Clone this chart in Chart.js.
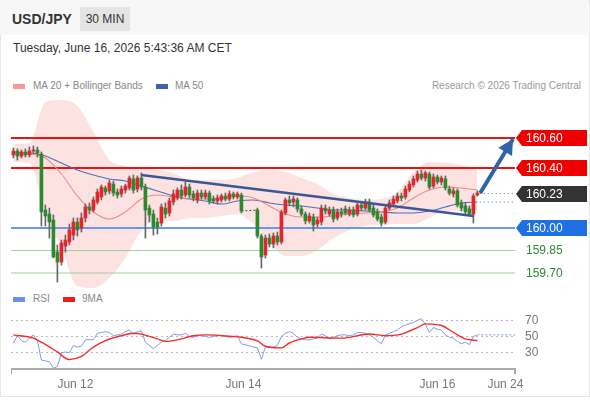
<!DOCTYPE html>
<html><head><meta charset="utf-8">
<script src="https://cdn.jsdelivr.net/npm/chart.js@4.4.1/dist/chart.umd.min.js"></script>
<style>
html,body{margin:0;padding:0;width:590px;height:400px;overflow:hidden;background:#fff;font-family:"Liberation Sans",Arial,sans-serif;}
#card{position:absolute;left:0;top:0;width:588px;height:395px;border:1px solid #e6e6e6;background:#fff;}
#hdr{position:absolute;left:0;top:0;width:588px;height:35px;background:#f7f7f7;}
#sym{position:absolute;left:12px;top:11px;font-size:14px;font-weight:bold;color:#333;}
#tf{position:absolute;left:80px;top:7px;width:50px;height:24px;background:#e4e4e4;color:#333;font-size:12px;line-height:24px;text-align:center;}
#date{position:absolute;left:13px;top:41px;font-size:12px;color:#333;}
.leg{position:absolute;font-size:10px;color:#888;white-space:nowrap;}
.sw{position:absolute;width:12px;height:5px;}
canvas{position:absolute;}
</style></head>
<body>
<div id="card"></div>
<div id="hdr"></div>
<div id="sym">USD/JPY</div>
<div id="tf">30 MIN</div>
<div id="date">Tuesday, June 16, 2026 5:43:36 AM CET</div>
<div class="sw" style="left:13px;top:84px;background:#f59a9a"></div>
<div class="leg" style="left:33px;top:80px">MA 20 + Bollinger Bands</div>
<div class="sw" style="left:156px;top:84px;background:#3f62a8"></div>
<div class="leg" style="left:175px;top:80px">MA 50</div>
<div class="leg" style="right:9px;top:80px;color:#999">Research © 2026 Trading Central</div>
<div class="sw" style="left:13px;top:297px;background:#6f93e4"></div>
<div class="leg" style="left:33px;top:293px">RSI</div>
<div class="sw" style="left:63px;top:297px;background:#f01c1c"></div>
<div class="leg" style="left:82px;top:293px">9MA</div>
<canvas id="main" width="579" height="195" style="left:11px;top:93px"></canvas>
<canvas id="rsiC" width="568" height="92" style="left:11px;top:304px"></canvas>
<script>
// ---------- data ----------
const openP = [
160.487,160.513,160.480,160.507,160.487,160.513,160.520,
160.493,160.120,160.093,160.053,159.840,159.773,159.880,159.907,159.953,160.040,
160.000,160.067,160.140,160.120,160.173,160.207,160.267,160.247,160.293,160.240,
160.227,160.253,160.267,160.327,160.260,160.333,160.273,160.133,160.093,160.040,
160.033,160.133,160.100,160.173,160.200,160.253,160.220,160.273,160.227,160.187,
160.233,160.207,160.233,160.193,160.180,160.187,160.213,160.193,160.227,160.207,
160.220,null,null,null,
160.120,159.947,159.820,159.933,159.893,159.947,159.907,160.100,160.187,160.173,
160.187,160.127,160.093,160.047,160.073,160.027,160.040,160.133,160.093,160.120,
160.067,160.107,160.127,160.093,160.120,160.093,160.153,160.133,160.173,160.133,
160.107,160.073,160.040,160.133,160.160,160.180,160.213,160.207,160.253,160.287,
160.320,160.360,160.333,160.360,160.280,160.340,160.307,160.327,160.260,160.227,
160.247,160.167,160.147,160.127,160.093,160.220];
const highP = [
160.533,160.527,160.520,160.527,160.540,160.547,160.540,
160.507,160.153,160.133,160.087,159.887,159.920,159.953,160.027,160.067,160.067,
160.100,160.160,160.167,160.207,160.260,160.287,160.280,160.320,160.313,160.260,
160.280,160.293,160.347,160.353,160.347,160.367,160.293,160.153,160.120,160.067,
160.160,160.167,160.200,160.253,160.267,160.287,160.307,160.293,160.247,160.253,
160.253,160.253,160.247,160.213,160.220,160.227,160.233,160.247,160.240,160.240,
160.233,null,null,null,
160.133,159.960,159.953,159.960,159.967,159.973,160.120,160.200,160.213,160.213,
160.200,160.147,160.107,160.100,160.093,160.073,160.153,160.153,160.140,160.140,
160.127,160.133,160.147,160.140,160.140,160.173,160.173,160.193,160.193,160.153,
160.127,160.093,160.153,160.187,160.213,160.233,160.233,160.280,160.313,160.347,
160.380,160.387,160.380,160.373,160.360,160.353,160.347,160.347,160.280,160.267,
160.260,160.187,160.167,160.147,160.227,160.247];
const lowP = [
160.467,160.453,160.467,160.473,160.473,160.500,160.473,
160.013,160.013,159.933,159.800,159.640,159.753,159.840,159.887,159.920,159.947,
159.973,160.040,160.093,160.107,160.160,160.187,160.220,160.227,160.213,160.200,
160.207,160.233,160.253,160.233,160.240,160.253,159.933,160.040,159.953,159.960,
160.013,160.067,160.080,160.153,160.187,160.193,160.207,160.200,160.180,160.167,
160.193,160.193,160.160,160.167,160.160,160.173,160.180,160.180,160.193,160.193,
160.100,null,null,null,
159.933,159.733,159.800,159.873,159.867,159.887,159.893,160.087,160.147,160.140,
160.107,160.080,160.027,160.033,159.980,160.007,160.020,160.093,160.080,160.040,
160.053,160.073,160.087,160.080,160.073,160.080,160.120,160.120,160.107,160.073,
160.047,160.013,160.027,160.120,160.147,160.167,160.180,160.193,160.240,160.273,
160.307,160.320,160.313,160.260,160.267,160.293,160.287,160.253,160.220,160.207,
160.140,160.113,160.087,160.080,160.033,160.213];
const closeP = [
160.513,160.480,160.507,160.487,160.513,160.520,160.500,
160.107,160.080,160.040,159.807,159.773,159.900,159.920,159.987,160.040,159.987,
160.067,160.140,160.120,160.187,160.240,160.273,160.240,160.300,160.233,160.220,
160.260,160.280,160.333,160.253,160.333,160.273,160.120,160.087,160.007,160.007,
160.140,160.093,160.180,160.227,160.253,160.213,160.273,160.220,160.200,160.233,
160.207,160.233,160.180,160.180,160.200,160.213,160.193,160.227,160.207,160.227,
160.113,null,null,null,
159.947,159.807,159.933,159.893,159.947,159.907,160.107,160.187,160.167,160.193,
160.127,160.093,160.047,160.080,160.020,160.053,160.133,160.113,160.120,160.060,
160.107,160.093,160.100,160.120,160.087,160.153,160.133,160.173,160.120,160.087,
160.060,160.033,160.133,160.167,160.193,160.213,160.200,160.260,160.293,160.327,
160.360,160.333,160.367,160.273,160.340,160.307,160.333,160.267,160.233,160.247,
160.153,160.133,160.107,160.093,160.213,160.233];

const maIdx = [0,4,8,12,16,20,24,28,32,36,40,44,48,52,56,60,64,68,72,76,80,84,88,92,96,100,104,108,112,116];
const ma20 = [160.500,160.493,160.467,160.360,160.213,160.107,160.060,160.107,160.193,160.220,160.207,160.193,160.193,160.200,160.213,160.200,160.147,160.093,160.073,160.073,160.080,160.093,160.100,160.107,160.133,160.200,160.253,160.273,160.267,160.253];
const ma50 = [160.500,160.500,160.480,160.433,160.387,160.353,160.327,160.313,160.280,160.247,160.213,160.193,160.180,160.160,160.180,160.187,160.167,160.153,160.147,160.133,160.120,160.120,160.113,160.107,160.100,160.100,160.113,160.140,160.167,160.173];
const bbUpper = [160.560,160.567,160.840,160.853,160.813,160.640,160.453,160.413,160.400,160.387,160.367,160.320,160.320,160.320,160.333,160.373,160.387,160.373,160.333,160.293,160.227,160.200,160.187,160.193,160.240,160.373,160.440,160.433,160.420,160.387];
const bbLower = [160.440,160.433,160.093,159.867,159.613,159.600,159.667,159.800,159.987,160.053,160.047,160.067,160.067,160.080,160.093,160.027,159.907,159.813,159.813,159.853,159.933,159.987,160.013,160.020,160.027,160.027,160.067,160.113,160.113,160.120];

const rsi = [
42,51,45,43,48,52,45,
21,20,19,11,13,30,31,30,39,37,
38,46,46,46,54,55,56,55,51,52,
53,56,58,53,56,57,43,39,35,39,
43,45,49,53,52,52,54,50,49,51,
51,50,49,50,51,51,50,49,50,51,
41,null,null,null,
36,22,37,37,37,39,50,54,56,54,
49,47,46,46,47,48,53,51,47,49,
51,52,52,51,52,55,55,54,52,49,
45,41,52,54,56,58,62,64,66,67,
70,72,65,55,61,59,58,52,49,48,
44,41,43,40,50,52];
const rsiMaIdx = [0,5,7,11,14,17,20,23,27,30,32,36,38,42,45,48,55,57,61,63,67,69,72,74,82,89,93,97,101,103,107,110,113,116];
const rsiMa = [52,48,43,31,21.5,25.5,37,45,51,54,53,47,44,47,51,52,50,49,44.5,38,36,42,47,49,48,53,51,53,61,65.5,63.5,55,47,45];

const trendIdx = [32, 115];
const trendVal = [160.353, 160.080];
const arrowIdx = [116.7, 124.9];
const arrowVal = [160.233, 160.593];
const levels = [160.60, 160.40, 160.00, 159.85, 159.70];
const lastPrice = 160.23;
const xTickIdx = [15.5, 57.5, 106, 123];
const xTickLabels = ['Jun 12', 'Jun 14', 'Jun 16', 'Jun 24'];
const rsiTicks = [30, 50, 70];

// ---------- build ----------
const X_MIN = -0.6, X_MAX = 125.4;
const UP = '#e3262b', DOWN = '#2b8a2e';
const pts = (idx, vals) => idx.map((x, k) => ({x: x, y: vals[k]}));
const lastI = openP.length - 1;
const bodies = [], wicks = [];
openP.forEach((o, i) => {
  if (o === null) return;
  const up = closeP[i] >= o;
  bodies.push({x: i, y: [o, closeP[i]], up});
  wicks.push({x: i, y: [lowP[i], highP[i]], up});
});
const levelStyle = [
  {c:'#ee1111', w:2}, {c:'#ee1111', w:2}, {c:'#6b98e8', w:2}, {c:'#9fd09f', w:1}, {c:'#9fd09f', w:1}
];
const lineDs = (data, color, width, extra) => Object.assign({
  type:'line', data, borderColor: color, borderWidth: width, pointRadius: 0, fill: false, tension: 0
}, extra || {});

const datasets = [
  lineDs(pts(maIdx, bbUpper), 'rgba(0,0,0,0)', 0, {fill:'+1', backgroundColor:'#fde2e2', cubicInterpolationMode:'monotone', order:30}),
  lineDs(pts(maIdx, bbLower), 'rgba(0,0,0,0)', 0, {cubicInterpolationMode:'monotone', order:31}),
];
levels.forEach((v, k) => datasets.push(lineDs([{x:X_MIN, y:v}, {x:X_MAX, y:v}], levelStyle[k].c, levelStyle[k].w, {order:20})));
datasets.push(lineDs(pts(maIdx, ma20), '#f28a8a', 1.1, {cubicInterpolationMode:'monotone', order:10}));
datasets.push(lineDs(pts(maIdx, ma50), '#4d70b6', 1.1, {cubicInterpolationMode:'monotone', order:10}));
datasets.push({type:'bar', data: wicks, grouped:false, barThickness:1, backgroundColor:'#666', order:6});
datasets.push({type:'bar', data: bodies, grouped:false, barThickness:3,
  backgroundColor: c => (c.raw && c.raw.up) ? UP : DOWN, order:5});
datasets.push(lineDs([{x:57, y:closeP[57]}, {x:61, y:openP[61]}], '#444', 1, {borderDash:[2,2], order:5}));
datasets.push(lineDs(pts(trendIdx, trendVal), '#3b5797', 2.5, {order:3}));
datasets.push(lineDs([{x:lastI + 0.6, y:lastPrice}, {x:X_MAX, y:lastPrice}], '#777', 1, {borderDash:[1,3], order:3}));
datasets.push(lineDs([{x:lastI + 0.6, y:ma50[ma50.length-1]}, {x:X_MAX, y:ma50[ma50.length-1]}], '#4d70b6', 1, {borderDash:[1,3], order:3}));
const arrowDsIndex = datasets.length;
datasets.push(lineDs(pts(arrowIdx, arrowVal), '#2f64a8', 4, {order:1}));

const tagPlugin = {
  id: 'tags',
  afterDatasetsDraw(chart) {
    const {ctx, chartArea, scales} = chart;
    const y = scales.y;
    // arrow head
    const m = chart.getDatasetMeta(arrowDsIndex).data;
    const p1 = m[0], p2 = m[1];
    const ang = Math.atan2(p2.y - p1.y, p2.x - p1.x);
    const L = 15, W = 8;
    ctx.save();
    ctx.fillStyle = '#2f64a8';
    ctx.beginPath();
    ctx.moveTo(p2.x, p2.y);
    ctx.lineTo(p2.x - L*Math.cos(ang) + W*Math.sin(ang), p2.y - L*Math.sin(ang) - W*Math.cos(ang));
    ctx.lineTo(p2.x - L*Math.cos(ang) - W*Math.sin(ang), p2.y - L*Math.sin(ang) + W*Math.cos(ang));
    ctx.closePath(); ctx.fill();
    // tags
    const R = chartArea.right;
    const tags = [
      {v: levels[0], bg:'#ee0000'}, {v: levels[1], bg:'#ee0000'},
      {v: lastPrice, bg:'#333333'}, {v: levels[2], bg:'#1f6fe5'}
    ];
    ctx.font = '12px "Liberation Sans", Arial, sans-serif';
    ctx.textBaseline = 'middle';
    tags.forEach(t => {
      const py = Math.round(y.getPixelForValue(t.v));
      ctx.fillStyle = t.bg;
      ctx.beginPath();
      ctx.moveTo(R + 1, py);
      ctx.lineTo(R + 7, py - 8);
      ctx.lineTo(R + 72, py - 8);
      ctx.lineTo(R + 72, py + 8);
      ctx.lineTo(R + 7, py + 8);
      ctx.closePath(); ctx.fill();
      ctx.fillStyle = '#fff';
      ctx.fillText(t.v.toFixed(2), R + 11, py + 0.5);
    });
    [levels[3], levels[4]].forEach(v => {
      ctx.fillStyle = '#2e8b2e';
      ctx.fillText(v.toFixed(2), R + 11, y.getPixelForValue(v) + 0.5);
    });
    ctx.restore();
  }
};

new Chart(document.getElementById('main'), {
  type: 'bar',
  data: { datasets },
  options: {
    responsive: false, animation: false, events: [],
    layout: { padding: { left: 0, top: 0, bottom: 0, right: 75 } },
    plugins: { legend: {display:false}, tooltip: {enabled:false} },
    scales: {
      x: { type:'linear', min:X_MIN, max:X_MAX, offset:false, display:false },
      y: { type:'linear', min:159.60, max:160.90, display:false }
    }
  },
  plugins: [tagPlugin]
});

// ---------- RSI panel ----------
new Chart(document.getElementById('rsiC'), {
  type: 'line',
  data: { datasets: [
    lineDs(rsi.map((v, i) => ({x:i, y:v})), '#7b9de6', 1, {spanGaps:true, order:2}),
    lineDs(pts(rsiMaIdx, rsiMa), '#f52a2a', 1.4, {cubicInterpolationMode:'monotone', order:1}),
    lineDs([{x:lastI, y:rsi[lastI]}, {x:X_MAX, y:rsi[lastI]}], '#7b9de6', 1, {borderDash:[2,2], order:2})
  ]},
  options: {
    responsive: false, animation: false, events: [],
    layout: { padding: 0 },
    plugins: { legend: {display:false}, tooltip: {enabled:false} },
    scales: {
      x: {
        type:'linear', position:'bottom', min:X_MIN, max:X_MAX, offset:false,
        afterBuildTicks: s => { s.ticks = [X_MIN, ...xTickIdx, X_MAX].map(v => ({value:v})); },
        afterFit: s => { s.height = 27; s.paddingLeft = 0; s.paddingRight = 0; },
        ticks: { autoSkip:false, maxRotation:0, padding:3, color:'#777',
          font:{ size:12, family:'"Liberation Sans", Arial, sans-serif' },
          callback: (v, i, arr) => (i === 0 || i === arr.length - 1) ? '' : xTickLabels[i - 1] },
        grid: { drawOnChartArea:false, drawTicks:true, tickLength:5, lineWidth:2,
          color: c => (c.index === 0 || c.index === xTickIdx.length + 1) ? '#aaa' : 'rgba(0,0,0,0)' },
        border: { display:true, color:'#aaa', width:2 }
      },
      y: {
        type:'linear', position:'right', min:10, max:90,
        afterBuildTicks: s => { s.ticks = rsiTicks.map(v => ({value:v})); },
        afterFit: s => { s.width = 64; s.paddingTop = 0; s.paddingBottom = 0; },
        ticks: { padding:10, color:'#777', font:{ size:12, family:'"Liberation Sans", Arial, sans-serif' } },
        grid: { drawTicks:false, color:'#bbb', lineWidth:1 },
        border: { display:false, dash:[2,3] }
      }
    }
  }
});
</script>
</body></html>
